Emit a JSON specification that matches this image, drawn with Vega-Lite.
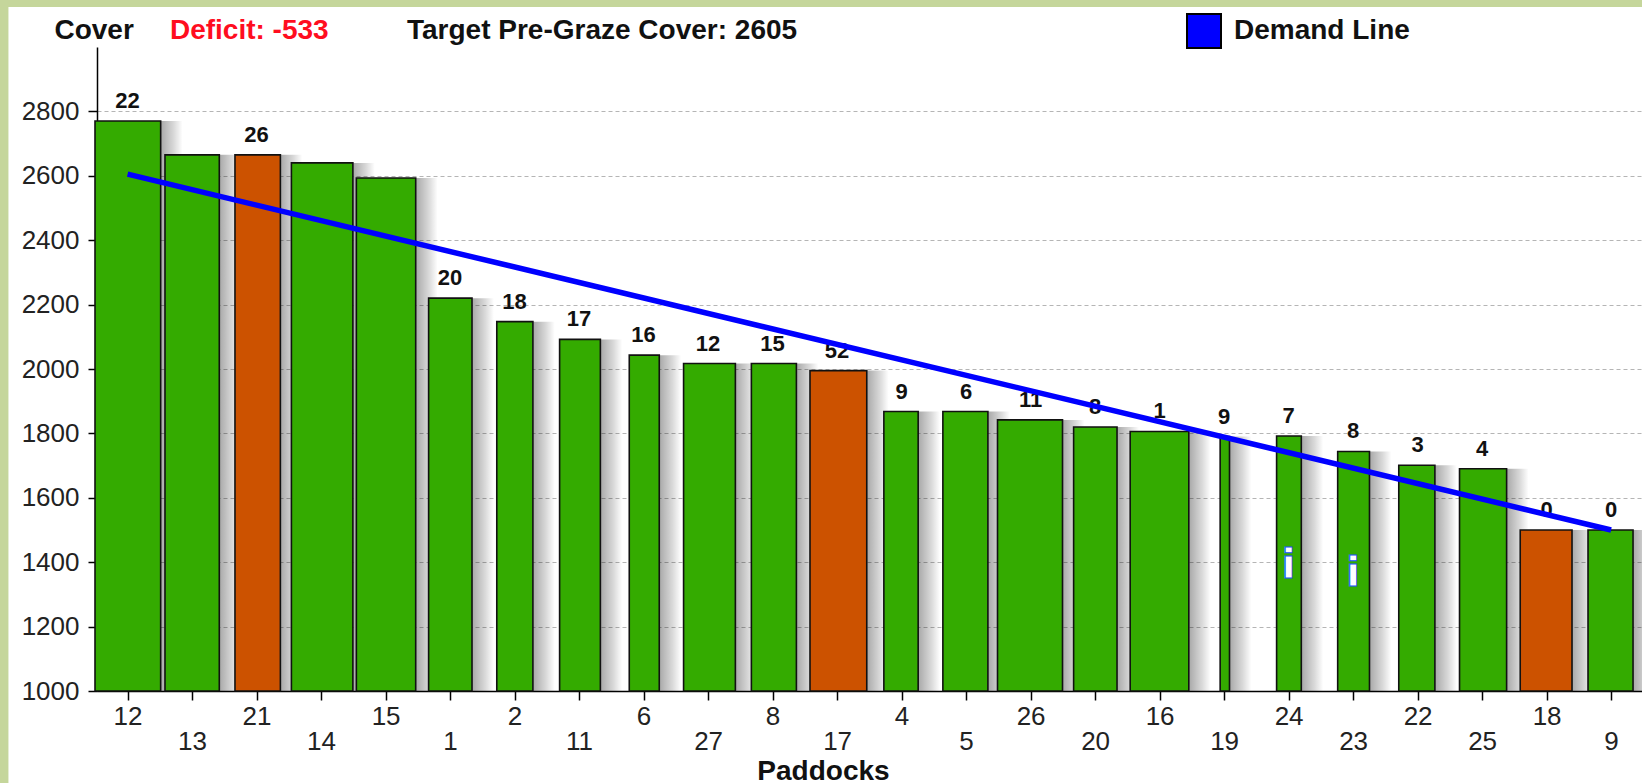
{"$schema":"https://vega.github.io/schema/vega-lite/v6.json","width":1545,"height":644,"autosize":{"type":"none"},"padding":{"left":97,"top":47,"right":0,"bottom":92},"background":"white","config":{"view":{"stroke":null},"font":"Liberation Sans"},"datasets":{"paddocks":[{"paddock":"12","order":1,"start":0.495,"end":1.513,"cover":2770,"count":22,"status":"ok"},{"paddock":"13","order":2,"start":1.58,"end":2.422,"cover":2665,"count":null,"status":"ok"},{"paddock":"21","order":3,"start":2.665,"end":3.369,"cover":2665,"count":26,"status":"flag"},{"paddock":"14","order":4,"start":3.54,"end":4.493,"cover":2640,"count":null,"status":"ok"},{"paddock":"15","order":5,"start":4.547,"end":5.467,"cover":2593,"count":null,"status":"ok"},{"paddock":"1","order":6,"start":5.667,"end":6.34,"cover":2220,"count":20,"status":"ok"},{"paddock":"2","order":7,"start":6.724,"end":7.284,"cover":2147,"count":18,"status":"ok"},{"paddock":"11","order":8,"start":7.698,"end":8.33,"cover":2092,"count":17,"status":"ok"},{"paddock":"6","order":9,"start":8.778,"end":9.243,"cover":2043,"count":16,"status":"ok"},{"paddock":"27","order":10,"start":9.62,"end":10.423,"cover":2017,"count":12,"status":"ok"},{"paddock":"8","order":11,"start":10.671,"end":11.369,"cover":2017,"count":15,"status":"ok"},{"paddock":"17","order":12,"start":11.58,"end":12.46,"cover":1995,"count":52,"status":"flag"},{"paddock":"4","order":13,"start":12.725,"end":13.257,"cover":1868,"count":9,"status":"ok"},{"paddock":"5","order":14,"start":13.64,"end":14.338,"cover":1868,"count":6,"status":"ok"},{"paddock":"26","order":15,"start":14.487,"end":15.495,"cover":1842,"count":11,"status":"ok"},{"paddock":"20","order":16,"start":15.667,"end":16.34,"cover":1820,"count":8,"status":"ok"},{"paddock":"16","order":17,"start":16.544,"end":17.453,"cover":1806,"count":1,"status":"ok"},{"paddock":"19","order":18,"start":17.939,"end":18.084,"cover":1790,"count":9,"status":"ok"},{"paddock":"24","order":19,"start":18.814,"end":19.197,"cover":1792,"count":7,"status":"ok"},{"paddock":"23","order":20,"start":19.761,"end":20.254,"cover":1744,"count":8,"status":"ok"},{"paddock":"22","order":21,"start":20.708,"end":21.268,"cover":1701,"count":3,"status":"ok"},{"paddock":"25","order":22,"start":21.65,"end":22.38,"cover":1690,"count":4,"status":"ok"},{"paddock":"18","order":23,"start":22.591,"end":23.394,"cover":1500,"count":0,"status":"flag"},{"paddock":"9","order":24,"start":23.642,"end":24.34,"cover":1500,"count":0,"status":"ok"}],"demand":[{"order":1,"demand":2605,"series":"Demand Line"},{"order":24,"demand":1500,"series":"Demand Line"}],"info":[{"order":19,"level":1388,"icon":"i"},{"order":20,"level":1364,"icon":"i"}],"header":[{"pos":0.482,"level":3050,"label":"Cover","tone":"#111111"},{"pos":2.887,"level":3050,"label":"Deficit: -533","tone":"#ff0d1f"},{"pos":8.356,"level":3050,"label":"Target Pre-Graze Cover: 2605","tone":"#111111"}],"frame":[{"a":-2,"b":-0.847,"c":500,"d":3300},{"a":-2,"b":26,"c":3124,"d":3300}]},"encoding":{"y":{"type":"quantitative","scale":{"domain":[1000,3000],"nice":false,"zero":false}}},"layer":[{"data":{"name":"frame"},"mark":{"type":"rect","fill":"#c5d69b","clip":false},"encoding":{"x":{"field":"a","type":"quantitative","scale":{"domain":[0.526,24.479],"nice":false,"zero":false},"axis":{"values":[1,2,3,4,5,6,7,8,9,10,11,12,13,14,15,16,17,18,19,20,21,22,23,24],"labelExpr":"['12','13','21','14','15','1','2','11','6','27','8','17','4','5','26','20','16','19','24','23','22','25','18','9'][datum.value-1]","labelFontSize":26,"labelColor":"#222222","labelFont":"Liberation Sans","labelOverlap":false,"labelPadding":2,"labelBaseline":"middle","labelFlush":false,"tickSize":9,"tickColor":"#000000","tickWidth":1.5,"domainColor":"#000000","domainWidth":1.5,"grid":false,"title":"Paddocks","titleFontSize":28,"titleFont":"Liberation Sans","titleFontWeight":"bold","titleColor":"#111111","titleX":726,"titleY":88,"titleBaseline":"alphabetic","encoding":{"labels":{"dy":{"value":{"signal":"datum.value % 2 == 0 ? 39 : 14"}}}}}},"x2":{"field":"b"},"y":{"field":"c","type":"quantitative","axis":{"values":[1000,1200,1400,1600,1800,2000,2200,2400,2600,2800],"format":"d","labelFontSize":26,"labelColor":"#222222","labelFont":"Liberation Sans","labelPadding":9,"tickSize":9,"tickColor":"#000000","tickWidth":1.5,"domainColor":"#000000","domainWidth":1.5,"grid":true,"gridColor":"#b5b5b5","gridDash":[4,3],"gridWidth":1,"title":null}},"y2":{"field":"d"}}},{"data":{"name":"paddocks"},"transform":[{"calculate":"datum.end + 0.34","as":"shadowEnd"}],"mark":{"type":"rect","fill":{"gradient":"linear","x1":0,"y1":0,"x2":1,"y2":0,"stops":[{"offset":0,"color":"rgba(0,0,0,0.34)"},{"offset":0.6,"color":"rgba(0,0,0,0.15)"},{"offset":1,"color":"rgba(0,0,0,0)"}]}},"encoding":{"x":{"field":"end","type":"quantitative"},"x2":{"field":"shadowEnd"},"y":{"field":"cover","type":"quantitative"},"y2":{"datum":1000}}},{"data":{"name":"paddocks"},"mark":{"type":"rect","stroke":"#111111","strokeWidth":1.6,"clip":false},"encoding":{"x":{"field":"start","type":"quantitative"},"x2":{"field":"end"},"y":{"field":"cover","type":"quantitative"},"y2":{"datum":1000},"fill":{"field":"status","type":"nominal","legend":null,"scale":{"domain":["ok","flag"],"range":["#34ab00","#cc5200"]}}}},{"data":{"name":"info"},"mark":{"type":"text","font":"DejaVu Sans","fontWeight":"bold","fontSize":40,"fill":"#ffffff","stroke":"#2050ff","strokeWidth":1,"baseline":"middle","align":"center"},"encoding":{"x":{"field":"order","type":"quantitative"},"y":{"field":"level","type":"quantitative"},"text":{"field":"icon"}}},{"data":{"name":"paddocks"},"transform":[{"filter":"isValid(datum.count)"}],"mark":{"type":"text","font":"Liberation Sans","fontWeight":"bold","fontSize":22,"color":"#111111","baseline":"middle","align":"center","dy":-20},"encoding":{"x":{"field":"order","type":"quantitative"},"y":{"field":"cover","type":"quantitative"},"text":{"field":"count","type":"nominal"}}},{"data":{"name":"header"},"mark":{"type":"text","font":"Liberation Sans","fontWeight":"bold","fontSize":28,"baseline":"middle","align":"center"},"encoding":{"x":{"field":"pos","type":"quantitative"},"y":{"field":"level","type":"quantitative"},"text":{"field":"label"},"color":{"field":"tone","type":"nominal","scale":null}}},{"data":{"name":"demand"},"mark":{"type":"line","strokeWidth":5.5,"clip":false,"stroke":"#0000ff"},"encoding":{"x":{"field":"order","type":"quantitative"},"y":{"field":"demand","type":"quantitative"}}},{"data":{"name":"demand"},"mark":{"type":"square","size":0,"filled":true,"stroke":"#000000","strokeWidth":2,"opacity":1},"encoding":{"x":{"field":"order","type":"quantitative"},"y":{"field":"demand","type":"quantitative"},"fill":{"field":"series","type":"nominal","scale":{"domain":["Demand Line"],"range":["#0000ff"]},"legend":{"orient":"none","legendX":1089,"legendY":-34,"title":null,"symbolType":"square","symbolSize":1156,"symbolStrokeColor":"#000000","symbolStrokeWidth":2,"labelFontSize":28,"labelFontWeight":"bold","labelFont":"Liberation Sans","labelColor":"#111111","labelOffset":12,"labelLimit":400,"padding":0}}}}],"resolve":{"scale":{"fill":"independent"}}}
